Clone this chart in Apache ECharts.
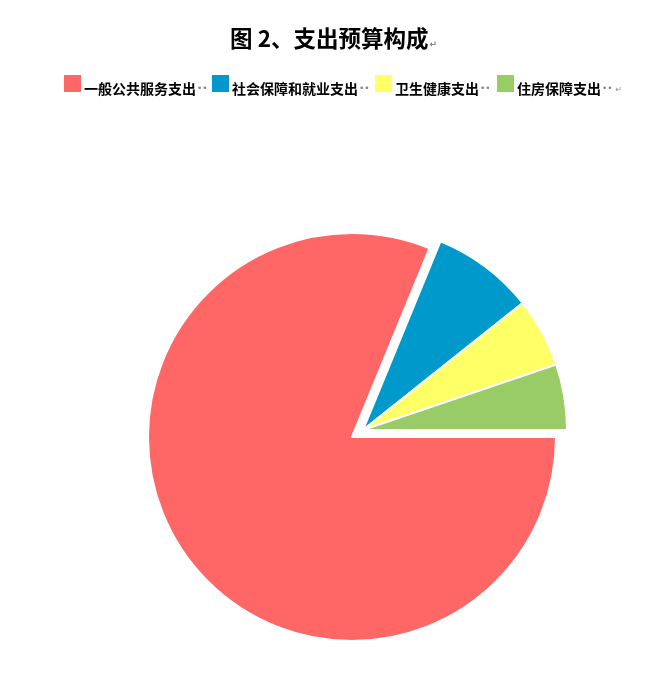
<!DOCTYPE html>
<html><head><meta charset="utf-8">
<script src="https://cdn.jsdelivr.net/npm/echarts@6/dist/echarts.min.js"></script>
<style>html,body{margin:0;padding:0;background:#fff}#c{width:667px;height:681px}</style>
</head><body><div id="c"></div>
<script>
const categories = ['一般公共服务支出', '社会保障和就业支出', '卫生健康支出', '住房保障支出'];
const values = [81.2, 8.1, 5.5, 5.2];
const colors = ['#FF6666', '#0099CC', '#FFFF66', '#99CC66'];

const chart = echarts.init(document.getElementById('c'));
const rest = values.slice(1).reduce((a, b) => a + b, 0);
const hidden = { color: 'rgba(0,0,0,0)', borderWidth: 0 };
const common = {
  type: 'pie', radius: 204, startAngle: 0, clockwise: true,
  label: { show: false }, labelLine: { show: false },
  emphasis: { disabled: true }, animation: false,
  itemStyle: { borderColor: '#fff', borderWidth: 2 }
};
const last = categories.length - 1;
const legendLeft = [64, 212, 375, 497];
const legends = categories.map((name, i) => ({
  data: [name],
  left: legendLeft[i], top: 75, padding: 0,
  itemWidth: 17, itemHeight: 17,
  icon: 'rect',
  itemStyle: { borderWidth: 0 },
  selectedMode: false,
  formatter: function (n) {
    return '{n|' + n + '}{d|••}' + (i === last ? '{r|↵}' : '');
  },
  textStyle: {
    rich: {
      n: { fontFamily: 'Noto Sans CJK SC', fontWeight: 'bold', fontSize: 14, color: '#000', padding: [11, 0, 0, -2] },
      d: { fontFamily: 'DejaVu Sans', fontSize: 9, color: '#858585', padding: [11, 0, 0, 1] },
      r: { fontFamily: 'DejaVu Sans', fontSize: 8, color: '#888', padding: [13, 0, 0, 3] }
    }
  }
}));
chart.setOption({
  title: {
    text: '{t|图 2、支出预算构成}{r|↵}',
    left: 'center', top: 22,
    textStyle: {
      rich: {
        t: { fontFamily: 'Noto Sans CJK SC', fontWeight: 'bold', fontSize: 22.5, color: '#000' },
        r: { fontFamily: 'DejaVu Sans', fontSize: 9, color: '#888', verticalAlign: 'bottom', padding: [0, 0, 0, 1] }
      }
    }
  },
  legend: legends,
  series: [
    Object.assign({}, common, {
      center: [352, 437],
      data: [
        { name: categories[0], value: values[0], itemStyle: { color: colors[0] } },
        { name: '', value: rest, itemStyle: hidden }
      ]
    }),
    Object.assign({}, common, {
      center: [363, 430],
      data: [{ name: ' ', value: values[0], itemStyle: hidden }].concat(
        categories.slice(1).map((n, i) => ({ name: n, value: values[i + 1], itemStyle: { color: colors[i + 1] } }))
      )
    })
  ]
});
</script></body></html>
